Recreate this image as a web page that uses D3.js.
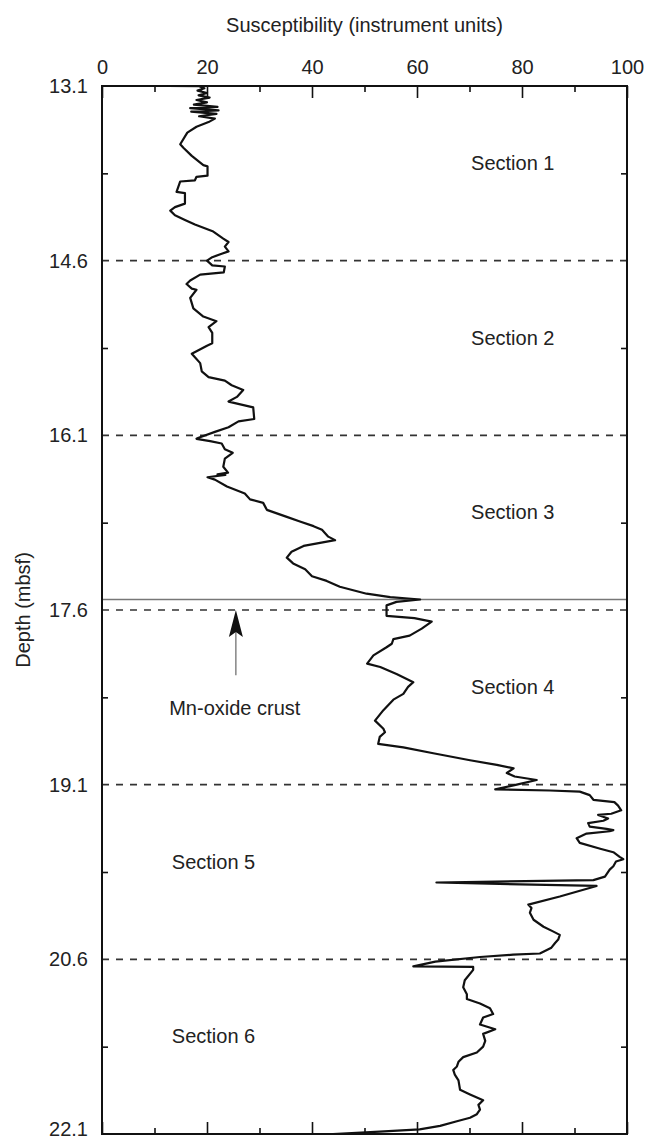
<!DOCTYPE html>
<html>
<head>
<meta charset="utf-8">
<script src="https://cdn.jsdelivr.net/npm/d3@7"></script>
<style>
  body { margin: 0; background: #fff; }
  svg text { font-family: "Liberation Sans", Arial, sans-serif; fill: #222; }
</style>
</head>
<body>
<div id="chart"></div>
<script>
const depth = [
  13.10, 13.102, 13.12, 13.14, 13.16, 13.18, 13.20, 13.22, 13.24, 13.26, 13.28, 13.29, 13.31, 13.32, 13.34, 13.36, 13.38,
  13.41, 13.45, 13.50, 13.60, 13.63, 13.70, 13.78, 13.79, 13.87, 13.88, 13.91, 13.92, 14.01, 14.02, 14.11, 14.14, 14.17,
  14.21, 14.25, 14.29, 14.35, 14.41, 14.44, 14.48, 14.52, 14.54, 14.57, 14.60, 14.64, 14.65, 14.70, 14.72, 14.77, 14.80,
  14.84, 14.85, 14.92, 15.01, 15.08, 15.12, 15.17, 15.22, 15.31, 15.33, 15.40, 15.43, 15.48, 15.55, 15.60, 15.63, 15.67,
  15.71, 15.77, 15.81, 15.86, 15.96, 15.98, 16.03, 16.07, 16.12, 16.13, 16.15, 16.17, 16.22, 16.25, 16.30, 16.37, 16.42,
  16.435, 16.44, 16.46, 16.48, 16.54, 16.60, 16.65, 16.68, 16.74, 16.80, 16.84, 16.88, 16.91, 16.97, 17.00, 17.05, 17.10,
  17.15, 17.20, 17.25, 17.31, 17.35, 17.40, 17.46, 17.49, 17.51, 17.53, 17.56, 17.65, 17.67, 17.70, 17.76, 17.82, 17.85,
  17.89, 17.92, 17.99, 18.06, 18.09, 18.15, 18.22, 18.26, 18.32, 18.37, 18.46, 18.55, 18.62, 18.65, 18.69, 18.75, 18.78,
  18.83, 18.89, 18.93, 18.96, 19.00, 19.03, 19.06, 19.10, 19.14, 19.15, 19.16, 19.19, 19.23, 19.25, 19.28, 19.32, 19.35,
  19.36, 19.39, 19.41, 19.43, 19.46, 19.48, 19.49, 19.50, 19.52, 19.56, 19.60, 19.65, 19.68, 19.72, 19.74, 19.76, 19.80,
  19.83, 19.89, 19.92, 19.94, 19.97, 20.06, 20.13, 20.16, 20.20, 20.26, 20.32, 20.36, 20.39, 20.43, 20.46, 20.50, 20.55,
  20.56, 20.58, 20.62, 20.66, 20.665, 20.69, 20.78, 20.84, 20.90, 20.94, 20.98, 21.02, 21.07, 21.10, 21.16, 21.20, 21.24,
  21.30, 21.35, 21.40, 21.44, 21.48, 21.52, 21.55, 21.59, 21.64, 21.72, 21.76, 21.81, 21.85, 21.89, 21.93, 21.96, 21.99,
  22.03, 22.06, 22.08, 22.10
];
const suscept = [
  12.5, 18.5, 19.5, 18.2, 20.0, 18.4, 20.5, 18.0, 20.0, 17.5, 22.0, 16.8, 22.2, 17.0, 21.8, 18.5, 21.5,
  20.3, 18.0, 16.25, 14.9, 15.5, 17.1, 19.3, 20.1, 20.1, 18.0, 17.7, 14.9, 14.2, 15.8, 15.8, 13.9, 13.0,
  13.9, 15.8, 17.7, 21.2, 23.1, 24.1, 23.4, 24.1, 22.8, 21.0, 20.0, 21.0, 23.4, 23.2, 18.7, 16.8, 16.1,
  17.1, 18.0, 16.8, 17.4, 19.3, 21.8, 20.3, 21.0, 21.0, 20.0, 17.1, 17.7, 18.7, 19.0, 20.3, 23.4, 24.7,
  26.9, 25.7, 24.1, 28.8, 29.0, 26.0, 24.1, 21.5, 18.4, 18.0, 20.6, 22.8, 23.4, 24.9, 23.4, 23.1, 24.0,
  22.0, 23.5, 20.1, 21.5, 23.8, 27.2, 28.2, 30.7, 31.4, 35.2, 37.7, 40.3, 41.9, 43.1, 44.4, 38.4, 36.1,
  35.2, 36.4, 38.7, 40.0, 42.8, 45.3, 50.4, 54.9, 60.6, 56.1, 54.2, 54.2, 59.5, 62.8, 60.9, 58.6, 55.5,
  55.2, 54.2, 51.7, 50.5, 53.0, 56.1, 59.3, 58.3, 57.4, 55.5, 53.6, 52.0, 53.6, 53.9, 52.9, 52.6, 57.4,
  63.1, 70.1, 75.2, 78.4, 77.1, 78.6, 82.8, 79.0, 74.9, 85.3, 91.0, 92.9, 93.6, 97.6, 98.3, 98.9, 97.0,
  94.5, 96.4, 95.5, 92.6, 92.9, 96.1, 97.4, 96.7, 92.3, 90.4, 91.0, 94.9, 97.4, 98.6, 99.3, 97.9, 97.4,
  96.7, 95.8, 93.6, 63.7, 94.2, 87.2, 81.2, 81.8, 81.5, 82.2, 84.1, 85.9, 87.2, 86.9, 86.3, 85.6, 83.4,
  78.3, 72.0, 63.5, 59.3, 70.7, 70.7, 69.1, 68.8, 69.5, 69.5, 72.0, 73.9, 74.5, 72.6, 72.0, 74.9, 72.6,
  73.0, 72.6, 71.4, 68.8, 67.9, 67.6, 66.9, 67.2, 67.9, 68.2, 70.1, 72.6, 71.7, 72.0, 71.4, 70.1, 67.6,
  64.4, 60.5, 52.9, 44.0
];

// section boundaries and labels
const sectionTops = [13.1, 14.6, 16.1, 17.6, 19.1, 20.6];
const sectionNames = ["Section 1", "Section 2", "Section 3", "Section 4", "Section 5", "Section 6"];
const sectionLabelX = [70.3, 70.3, 70.3, 70.3, 13.3, 13.3];

const xTicks = [0, 20, 40, 60, 80, 100];
const xMinorTicks = [10, 30, 50, 70, 90];
const yTicks = [13.1, 14.6, 16.1, 17.6, 19.1, 20.6, 22.1];
const yMinorTicks = [13.85, 15.35, 16.85, 18.35, 19.85, 21.35];
const dashedDepths = [14.6, 16.1, 17.6, 19.1, 20.6];

// Mn-oxide crust annotation
const crustDepth = 17.51;
const arrowX = 25.5, arrowTip = 17.6, arrowTail = 18.16;

const width = 647, height = 1143;
const margin = {top: 86, right: 20, bottom: 9, left: 102};
const innerW = 627 - margin.left, innerH = 1134 - margin.top;

const svg = d3.select("#chart").append("svg")
  .attr("width", width)
  .attr("height", height);

const g = svg.append("g").attr("transform", `translate(${margin.left},${margin.top})`);

const x = d3.scaleLinear().domain([0, 100]).range([0, innerW]);
const y = d3.scaleLinear().domain([13.1, 22.1]).range([0, innerH]);

// dashed section boundaries
g.selectAll(".sect-line")
  .data(dashedDepths)
  .enter().append("line")
  .attr("x1", 0).attr("x2", innerW)
  .attr("y1", d => y(d)).attr("y2", d => y(d))
  .attr("stroke", "#333")
  .attr("stroke-width", 1.6)
  .attr("stroke-dasharray", "7,7");

// crust line
g.append("line")
  .attr("x1", 0).attr("x2", innerW)
  .attr("y1", y(crustDepth)).attr("y2", y(crustDepth))
  .attr("stroke", "#777")
  .attr("stroke-width", 1.3);

// axes: major and minor, ticks pointing inward
function styleAxis(sel) {
  sel.select(".domain").remove();
  sel.selectAll(".tick line").attr("stroke", "#111").attr("stroke-width", 1.6);
  sel.selectAll("text").style("font-size", "20px").attr("fill", "#222");
}

g.append("g")
  .call(d3.axisTop(x).tickValues(xTicks).tickSize(-12).tickPadding(12).tickFormat(d3.format("d")))
  .call(styleAxis);
g.append("g")
  .call(d3.axisTop(x).tickValues(xMinorTicks).tickSize(-6).tickFormat(""))
  .call(styleAxis);
g.append("g").attr("transform", `translate(0,${innerH})`)
  .call(d3.axisBottom(x).tickValues(xTicks).tickSize(-12).tickFormat(""))
  .call(styleAxis);
g.append("g").attr("transform", `translate(0,${innerH})`)
  .call(d3.axisBottom(x).tickValues(xMinorTicks).tickSize(-6).tickFormat(""))
  .call(styleAxis);

const yAxisG = g.append("g")
  .call(d3.axisLeft(y).tickValues(yTicks).tickSize(0).tickPadding(14).tickFormat(d3.format(".1f")))
  .call(styleAxis);
// bottom label sits right at the page edge; lift it a little so it stays whole
yAxisG.selectAll(".tick text").filter(d => d === 22.1).attr("dy", "0.05em");

g.append("g")
  .call(d3.axisLeft(y).tickValues(yMinorTicks).tickSize(-6).tickFormat(""))
  .call(styleAxis);
g.append("g").attr("transform", `translate(${innerW},0)`)
  .call(d3.axisRight(y).tickValues(yMinorTicks).tickSize(-6).tickFormat(""))
  .call(styleAxis);

// frame
g.append("rect")
  .attr("width", innerW).attr("height", innerH)
  .attr("fill", "none")
  .attr("stroke", "#111")
  .attr("stroke-width", 2);

// susceptibility log
const points = depth.map((d, i) => ({depth: d, value: suscept[i]}));
const line = d3.line()
  .x(d => x(d.value))
  .y(d => y(d.depth));

g.append("path")
  .datum(points)
  .attr("fill", "none")
  .attr("stroke", "#111")
  .attr("stroke-width", 2.2)
  .attr("stroke-linejoin", "round")
  .attr("d", line);

// section labels
g.selectAll(".sect-label")
  .data(sectionNames)
  .enter().append("text")
  .attr("x", (d, i) => x(sectionLabelX[i]))
  .attr("y", (d, i) => y(sectionTops[i] + 0.72))
  .style("font-size", "20px")
  .text(d => d);

// arrow + label for the crust
g.append("line")
  .attr("x1", x(arrowX)).attr("x2", x(arrowX))
  .attr("y1", y(arrowTail)).attr("y2", y(arrowTip) + 20)
  .attr("stroke", "#666")
  .attr("stroke-width", 1.2);
g.append("path")
  .attr("d", `M${x(arrowX)},${y(arrowTip)} L${x(arrowX) - 7},${y(arrowTip) + 27} L${x(arrowX)},${y(arrowTip) + 22} L${x(arrowX) + 7},${y(arrowTip) + 27} Z`)
  .attr("fill", "#111");
g.append("text")
  .attr("x", x(12.8))
  .attr("y", y(18.5))
  .style("font-size", "20px")
  .text("Mn-oxide crust");

// axis titles
svg.append("text")
  .attr("x", margin.left + innerW / 2)
  .attr("y", 32)
  .attr("text-anchor", "middle")
  .style("font-size", "20px")
  .text("Susceptibility (instrument units)");

svg.append("text")
  .attr("transform", `translate(30,${margin.top + innerH / 2}) rotate(-90)`)
  .attr("text-anchor", "middle")
  .style("font-size", "20px")
  .text("Depth (mbsf)");
</script>
</body>
</html>
